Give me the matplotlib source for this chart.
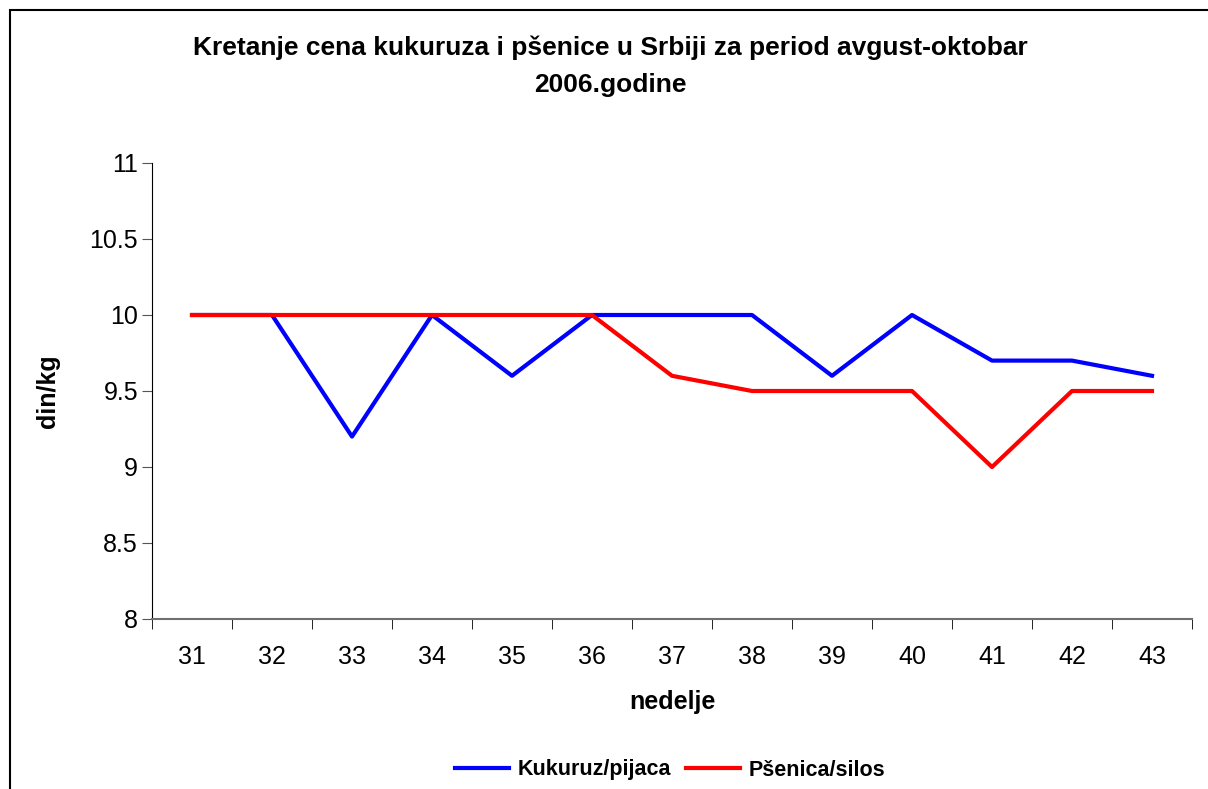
import matplotlib.pyplot as plt
from matplotlib.patches import Rectangle

# nedelje (weeks) and prices in din/kg
weeks = [31, 32, 33, 34, 35, 36, 37, 38, 39, 40, 41, 42, 43]
kukuruz = [10, 10, 9.2, 10, 9.6, 10, 10, 10, 9.6, 10, 9.7, 9.7, 9.6]
psenica = [10, 10, 10, 10, 10, 10, 9.6, 9.5, 9.5, 9.5, 9.0, 9.5, 9.5]
yticks = [8, 8.5, 9, 9.5, 10, 10.5, 11]
ylabels = ['8', '8.5', '9', '9.5', '10', '10.5', '11']

plt.rcParams['font.family'] = ['Liberation Sans', 'DejaVu Sans']

fig = plt.figure(figsize=(12.08, 7.89), dpi=100)
ax = fig.add_axes([152 / 1208, 1 - 619 / 789, 1040 / 1208, 456 / 789])

# outer chart border (right/bottom edges fall outside the picture)
fig.patches.append(Rectangle((10 / 1208, -0.1), 1.2, 1 - 10 / 789 + 0.1,
                             transform=fig.transFigure, fill=False,
                             edgecolor='black', linewidth=1.5))

x = list(range(len(weeks)))
ax.plot(x, kukuruz, color='#0000ff', linewidth=3, label='Kukuruz/pijaca')
ax.plot(x, psenica, color='#ff0000', linewidth=3, label='Pšenica/silos')

ax.set_xlim(-0.5, len(weeks) - 0.5)
ax.set_ylim(8, 11)
ax.set_yticks(yticks)
ax.set_yticklabels(ylabels)
ax.set_xticks(x)
ax.set_xticklabels([str(w) for w in weeks])
ax.set_xticks([i - 0.5 for i in range(len(weeks) + 1)], minor=True)
ax.tick_params(axis='x', which='major', length=0, pad=19, labelsize=18)
ax.tick_params(axis='x', which='minor', length=7, color='black')
ax.tick_params(axis='y', length=7, pad=3, labelsize=18, color='#555555')

for s in ['top', 'right']:
    ax.spines[s].set_visible(False)
ax.spines['left'].set_color('black')
ax.spines['bottom'].set_color('#707070')
ax.spines['bottom'].set_linewidth(1.5)

ax.set_xlabel('nedelje', fontsize=18, fontweight='bold', labelpad=15)
ax.set_ylabel('din/kg', fontsize=18, fontweight='bold', labelpad=21)

fig.text(0.505, 1 - 48 / 789, 'Kretanje cena kukuruza i pšenice u Srbiji za period avgust-oktobar',
         ha='center', va='center', fontsize=19, fontweight='bold')
fig.text(0.505, 1 - 85 / 789, '2006.godine', ha='center', va='center',
         fontsize=19, fontweight='bold')

fig.legend(loc='center', bbox_to_anchor=(0.555, 1 - 770 / 789), ncol=2, frameon=False,
           prop={'size': 15.5, 'weight': 'bold'}, handlelength=2.5, columnspacing=0.7,
           handletextpad=0.4)

fig.savefig('out.png', dpi=100)
